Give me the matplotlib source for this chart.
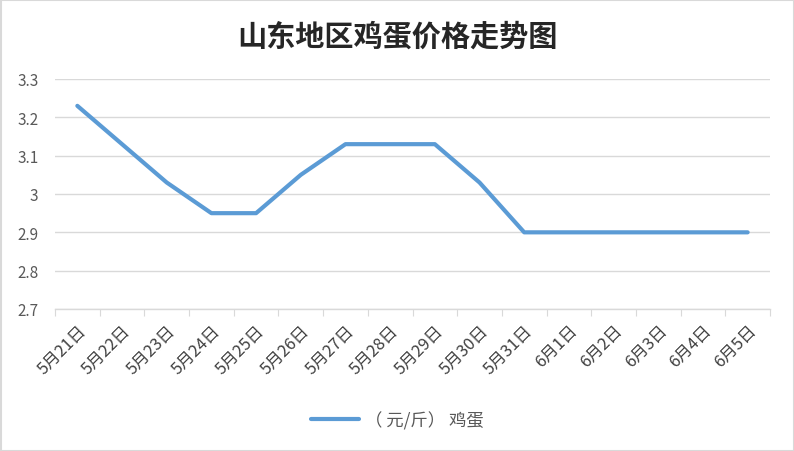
import matplotlib.pyplot as plt
from matplotlib.patches import Rectangle

plt.rcParams['font.family'] = ['Noto Sans CJK SC', 'DejaVu Sans']

dates = ["5月21日", "5月22日", "5月23日", "5月24日", "5月25日", "5月26日",
         "5月27日", "5月28日", "5月29日", "5月30日", "5月31日",
         "6月1日", "6月2日", "6月3日", "6月4日", "6月5日"]
prices = [3.23, 3.13, 3.03, 2.95, 2.95, 3.05, 3.13, 3.13, 3.13, 3.03,
          2.90, 2.90, 2.90, 2.90, 2.90, 2.90]
y_ticks = [2.7, 2.8, 2.9, 3.0, 3.1, 3.2, 3.3]
y_labels = ["2.7", "2.8", "2.9", "3", "3.1", "3.2", "3.3"]

fig = plt.figure(figsize=(7.94, 4.52), dpi=100)
ax = fig.add_axes([55 / 794, 1 - 310 / 452, 715 / 794, 230 / 452])

x = list(range(len(dates)))
ax.plot(x, prices, color='#5b9bd5', linewidth=3, solid_capstyle='round',
        label='（ 元/斤） 鸡蛋')

ax.set_xlim(-0.5, len(dates) - 0.5)
ax.set_ylim(2.7, 3.3)
ax.set_yticks(y_ticks)
ax.set_yticklabels(y_labels, fontsize=11, color='#595959')
ax.tick_params(axis='y', length=0, pad=12)

# boundary ticks between categories, labels at the centres
ax.set_xticks([i - 0.5 for i in range(len(dates) + 1)], minor=False)
ax.set_xticklabels([])
ax.tick_params(axis='x', length=5, color='#d9d9d9', direction='out')
ax.set_xticks(x, minor=True)
ax.set_xticklabels(dates, minor=True, rotation=45, ha='right', va='top',
                   rotation_mode='anchor', fontsize=12, color='#404040')
ax.tick_params(axis='x', which='minor', length=0, pad=9)
for lbl in ax.get_xticklabels(minor=True):
    lbl.set_x(lbl.get_position()[0])

ax.grid(axis='y', color='#d9d9d9', linewidth=1)
ax.set_axisbelow(True)
for s in ['top', 'right', 'left']:
    ax.spines[s].set_visible(False)
ax.spines['bottom'].set_color('#d9d9d9')
ax.spines['bottom'].set_linewidth(1)

fig.text(0.5, 1 - 37 / 452, '山东地区鸡蛋价格走势图', ha='center', va='center',
         fontsize=21, fontweight='bold', color='#262626')

leg = fig.legend(loc='center', bbox_to_anchor=(0.5, 1 - 421 / 452),
                 frameon=False, fontsize=12.5, handlelength=2.8,
                 handletextpad=0.3)
for t in leg.get_texts():
    t.set_color('#595959')

fig.patches.append(Rectangle((0.5 / 794, 0.5 / 452), 1 - 1 / 794, 1 - 1 / 452,
                             transform=fig.transFigure, fill=False,
                             edgecolor='#d9d9d9', linewidth=1.5))

fig.savefig('out.png', dpi=100)
